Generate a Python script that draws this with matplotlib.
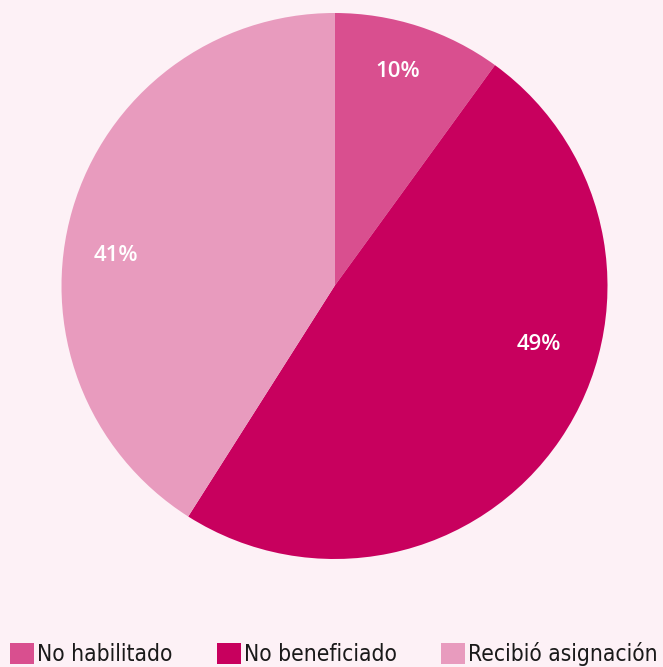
import numpy as np
import matplotlib.pyplot as plt
from matplotlib import font_manager

categories = ["No habilitado", "No beneficiado", "Recibió asignación"]
values = [10, 49, 41]
colors = ["#D94F8F", "#C8005E", "#E89BBE"]
bg = "#FDF1F6"

# label placement (angle in degrees, radius as fraction of the pie)
label_angles = [73.5, -16, 172]
label_radii = [0.82, 0.78, 0.81]

fig = plt.figure(figsize=(6.63, 6.67), dpi=100, facecolor=bg)
ax = fig.add_axes([61.5 / 663, 108 / 667, 546 / 663, 546 / 667])
ax.set_facecolor(bg)

wedges, texts, autotexts = ax.pie(
    values, colors=colors, startangle=90, counterclock=False,
    autopct="%d%%", radius=1,
    wedgeprops=dict(linewidth=0),
    textprops=dict(color="white", fontsize=16, fontweight="semibold",
                   family=["Open Sans", "DejaVu Sans"]),
)
for t, a, r in zip(autotexts, label_angles, label_radii):
    t.set_position((r * np.cos(np.radians(a)), r * np.sin(np.radians(a))))
ax.set_xlim(-1, 1)
ax.set_ylim(-1, 1)
ax.set_aspect("equal")

names = {f.name for f in font_manager.fontManager.ttflist}
narrow = [n for n in ["Liberation Sans Narrow", "DejaVu Sans Condensed"] if n in names]

leg = fig.legend(
    wedges, categories, loc="center left", bbox_to_anchor=(0.0, 13 / 667),
    ncol=3, frameon=False, handlelength=1.05, handleheight=1.05,
    handletextpad=0.15, columnspacing=1.95, borderaxespad=0, borderpad=0.45,
    prop=dict(family=narrow + ["DejaVu Sans"], size=16.3, stretch="condensed"),
)
for t in leg.get_texts():
    t.set_color("#1a1a1a")

fig.savefig("out.png", dpi=100, facecolor=bg)
